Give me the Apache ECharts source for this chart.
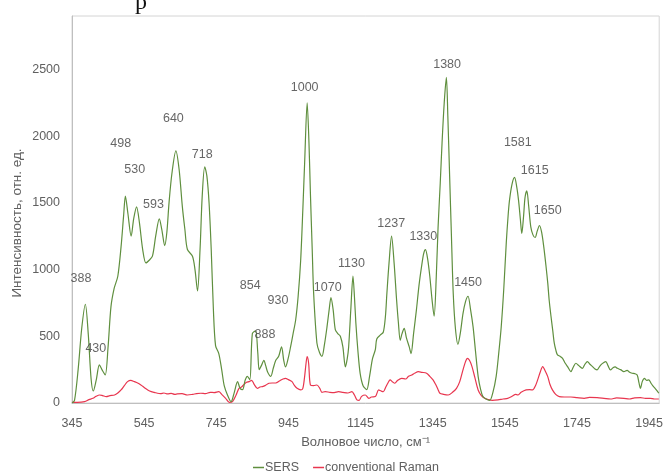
<!DOCTYPE html>
<html><head><meta charset="utf-8">
<script src="https://cdn.jsdelivr.net/npm/echarts@6/dist/echarts.min.js"></script>
<style>html,body{margin:0;padding:0;background:#fff}#c{width:666px;height:474px}</style>
</head><body><div id="c"></div>
<script>
const sersX=[345,352,362,372,382,390,398,404,412,421,428,437,445,453,462,472,481,488,493,500,509,516,524,532,541,550,559,568,577,587,594,602,608,614,622,633,642,651,658,665,679,686,693,700,706,713,719,725,731,737,743,752,760,767,776,786,795,804,811,818,825,831,838,845,854,860,864,870,877,882,887,896,903,910,918,926,932,937,944,951,958,965,972,979,985,990,997,1002,1006,1011,1015,1024,1031,1038,1045,1052,1058,1063,1069,1075,1082,1089,1096,1103,1108,1112,1118,1124,1128,1132,1138,1144,1152,1162,1170,1178,1186,1190,1200,1208,1214,1218,1224,1231,1238,1245,1250,1255,1260,1266,1272,1280,1285,1292,1300,1307,1314,1320,1325,1331,1337,1343,1349,1355,1360,1366,1371,1377,1383,1387,1392,1397,1402,1408,1415,1422,1429,1436,1443,1450,1457,1464,1471,1478,1484,1493,1503,1512,1521,1528,1535,1542,1549,1554,1558,1565,1572,1578,1583,1588,1592,1597,1601,1606,1611,1617,1623,1629,1635,1641,1647,1653,1659,1664,1668,1673,1678,1682,1687,1691,1698,1705,1712,1719,1728,1735,1742,1750,1760,1767,1774,1781,1788,1795,1801,1808,1815,1825,1831,1838,1845,1851,1857,1866,1875,1884,1891,1898,1905,1912,1917,1921,1926,1932,1938,1944,1950,1955,1960,1965,1972];
const sersY=[0,20,250,560,740,520,180,90,170,285,250,210,420,720,860,950,1170,1400,1550,1420,1250,1380,1470,1350,1150,1050,1070,1100,1250,1380,1300,1180,1280,1500,1720,1890,1750,1470,1300,1150,1100,1000,840,1150,1550,1770,1700,1500,1150,700,430,370,250,130,60,10,80,160,110,100,170,200,175,520,540,380,250,280,320,280,235,200,260,320,350,420,320,270,330,420,520,620,800,1070,1450,1800,2250,1950,1570,1150,820,450,380,350,440,570,700,790,700,550,520,500,420,270,330,420,700,950,800,600,380,220,130,100,200,330,400,480,510,530,650,820,1050,1250,1050,770,600,470,520,560,490,420,370,520,700,880,1020,1120,1150,1080,950,780,650,950,1320,1650,1950,2250,2440,2150,1700,1250,820,560,440,530,670,760,800,700,570,380,200,100,50,30,20,80,200,370,570,850,1200,1400,1520,1640,1690,1620,1520,1380,1270,1400,1540,1590,1480,1320,1260,1240,1290,1330,1280,1170,1030,900,770,650,540,450,390,360,350,335,300,273,235,270,298,280,260,290,310,290,273,255,248,275,295,310,280,248,265,270,260,250,235,245,230,223,220,210,150,110,160,185,170,173,150,130,115,98,73];
const ramanX=[345,360,380,392,403,412,421,430,440,450,463,472,481,490,499,508,518,527,536,546,555,565,573,582,590,600,610,620,630,637,650,665,680,690,702,715,728,739,752,760,771,781,790,800,808,815,822,829,836,843,850,859,866,873,880,891,900,910,920,930,937,945,955,962,969,979,985,990,994,997,1001,1006,1015,1024,1032,1038,1047,1060,1072,1084,1096,1110,1121,1128,1135,1141,1148,1158,1168,1175,1186,1195,1202,1208,1215,1221,1227,1233,1240,1248,1259,1270,1278,1287,1296,1305,1315,1328,1337,1346,1353,1360,1365,1375,1388,1400,1411,1420,1429,1436,1441,1447,1454,1462,1471,1480,1489,1500,1510,1526,1540,1553,1565,1575,1581,1590,1604,1614,1622,1630,1636,1643,1650,1657,1664,1670,1677,1686,1696,1710,1728,1745,1765,1780,1801,1820,1838,1855,1875,1890,1905,1921,1935,1948,1960,1972];
const ramanY=[5,5,10,25,35,50,60,55,48,55,60,75,98,130,160,170,160,150,135,115,98,85,80,73,70,75,68,72,65,68,70,60,65,70,73,70,80,78,85,65,35,5,10,60,110,120,140,155,160,170,140,110,120,123,130,148,150,150,165,180,185,175,160,130,110,98,110,200,300,348,300,135,130,135,110,80,85,80,78,85,80,75,85,60,23,20,50,60,35,45,48,98,90,85,120,150,173,160,148,170,185,180,200,210,225,235,230,223,200,173,140,100,73,65,60,80,110,160,248,310,335,320,273,190,98,55,35,25,20,23,30,35,50,65,60,80,98,100,98,130,173,230,273,240,198,140,98,65,48,45,45,40,35,42,40,35,30,38,35,30,38,40,35,35,30,30];
const peakLabels=['388','430','498','530','593','640','718','854','888','930','1000','1070','1130','1237','1330','1380','1450','1581','1615','1650'];
const peakLabelX=[370,411,480,519,571,626,706,839,880,916,990,1054,1120,1230,1319,1385,1443,1581,1628,1664];
const peakLabelY=[931,405,1944,1749,1486,2132,1862,878,510,766,2365,863,1044,1344,1246,2537,900,1952,1742,1441];
const xTicks=[345,545,745,945,1145,1345,1545,1745,1945];
const yTicks=[0,500,1000,1500,2000,2500];

const zip=(a,b)=>a.map((v,i)=>[v,b[i]]);
const chart=echarts.init(document.getElementById('c'),null,{renderer:'canvas'});
const labelData=peakLabels.map((t,i)=>({value:[peakLabelX[i],peakLabelY[i]],name:t}));
const txt='#606060';
chart.setOption({
  animation:false,
  backgroundColor:'#ffffff',
  graphic:[
    {type:'text',left:135,top:-9,style:{text:'р',font:'24px "Liberation Serif"',fill:'#111'}},
    {type:'text',x:17,y:223,rotation:Math.PI/2,style:{text:'Интенсивность, отн. ед.',font:'13.5px "Liberation Sans"',fill:txt,align:'center',verticalAlign:'middle'}}
  ],
  grid:{left:72,right:4,top:16,bottom:71,show:true,borderColor:'#d4d4d4',borderWidth:1},
  legend:{top:456,left:248,itemWidth:11,itemHeight:1.5,itemGap:14,icon:'rect',
    textStyle:{fontFamily:'Liberation Sans',fontSize:12.5,color:txt,padding:[0,0,0,-4]},
    data:['SERS','conventional Raman']},
  xAxis:{type:'value',min:345,max:1973,interval:200,
    name:'Волновое число, см⁻¹',nameLocation:'middle',nameGap:33,
    nameTextStyle:{fontFamily:'Liberation Sans',fontSize:13,color:txt},
    axisLine:{show:true,lineStyle:{color:'#bfbfbf'}},axisTick:{show:false},splitLine:{show:false},
    axisLabel:{margin:14,fontFamily:'Liberation Sans',fontSize:12.5,color:txt,
      formatter:v=>xTicks.indexOf(v)>=0?String(v):''}},
  yAxis:{type:'value',min:0,max:2900,interval:500,
    axisLine:{show:true,lineStyle:{color:'#bfbfbf'}},axisTick:{show:false},splitLine:{show:false},
    axisLabel:{margin:12,fontFamily:'Liberation Sans',fontSize:12.5,color:txt,
      formatter:v=>yTicks.indexOf(v)>=0?String(v):''}},
  series:[
    {name:'SERS',type:'line',data:zip(sersX,sersY),showSymbol:false,smooth:0.3,
      lineStyle:{color:'#5f8f3e',width:1.2},itemStyle:{color:'#5f8f3e'},z:3},
    {name:'conventional Raman',type:'line',data:zip(ramanX,ramanY),showSymbol:false,smooth:0.3,
      lineStyle:{color:'#e8364f',width:1.2},itemStyle:{color:'#e8364f'},z:2},
    {name:'labels',type:'scatter',data:labelData,symbolSize:0,silent:true,
      label:{show:true,position:'inside',formatter:p=>p.name,fontFamily:'Liberation Sans',fontSize:12.5,color:'#404040'},z:5}
  ]
});
</script></body></html>
